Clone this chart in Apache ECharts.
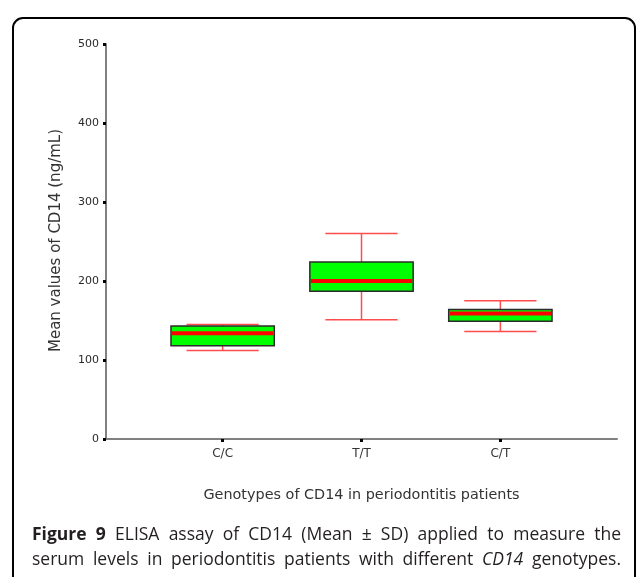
<!DOCTYPE html>
<html><head><meta charset="utf-8">
<script src="https://cdn.jsdelivr.net/npm/echarts@6/dist/echarts.min.js"></script>
<style>
html,body{margin:0;padding:0;background:#fff;}
#wrap{position:relative;width:636px;height:577px;overflow:hidden;}
#chart{position:absolute;left:0;top:0;width:636px;height:577px;}
.cap{position:absolute;left:32px;width:589px;font-family:"Open Sans",sans-serif;font-size:17.5px;line-height:25px;color:#231f20;text-align:justify;text-align-last:justify;white-space:nowrap;}
</style></head><body>
<div id="wrap"><div id="chart"></div>
<div class="cap" style="top:521px"><b>Figure 9</b> ELISA assay of CD14 (Mean ± SD) applied to measure the</div>
<div class="cap" style="top:546px">serum levels in periodontitis patients with different <i>CD14</i> genotypes.</div>
</div>
<script>
var categories = ['C/C', 'T/T', 'C/T'];
var lowValues = [112, 151, 136];
var q1Values = [118, 187, 149];
var medianValues = [134, 200, 159];
var q3Values = [143, 224, 164];
var highValues = [145, 260, 175];
var yTicks = [0, 100, 200, 300, 400, 500];

var boxData = categories.map(function (c, i) {
  return [i + 1, lowValues[i], q1Values[i], medianValues[i], q3Values[i], highValues[i]];
});

var FONT = 'DejaVu Sans';
var chart = echarts.init(document.getElementById('chart'));
chart.setOption({
  animation: false,
  backgroundColor: '#fff',
  grid: { left: 106, top: 44, right: 19, bottom: 138 },
  xAxis: {
    type: 'value', min: 0.16, max: 3.84,
    splitLine: { show: false },
    axisLine: { show: true, lineStyle: { color: '#808080', width: 2 } },
    axisTick: { show: true, length: 3, customValues: [1, 2, 3], lineStyle: { color: '#000', width: 3 } },
    axisLabel: {
      customValues: [1, 2, 3], margin: 9, fontSize: 12, color: '#333', fontFamily: FONT,
      formatter: function (v) { return categories[Math.round(v) - 1] || ''; }
    }
  },
  yAxis: {
    type: 'value', min: yTicks[0], max: yTicks[yTicks.length - 1], interval: 100,
    splitLine: { show: false },
    axisLine: { show: true, lineStyle: { color: '#808080', width: 2 } },
    axisTick: { show: true, length: 3, lineStyle: { color: '#000', width: 3 } },
    axisLabel: { margin: 7, fontSize: 11, color: '#2a2a2a', fontFamily: FONT }
  },
  graphic: [
    { type: 'rect', silent: true, z: 100,
      shape: { x: 13, y: 18, width: 622, height: 640, r: 10 },
      style: { fill: 'none', stroke: '#000', lineWidth: 2 } },
    { type: 'text', x: 56, y: 240.5, rotation: Math.PI / 2,
      style: { text: 'Mean values of CD14 (ng/mL)', fontSize: 15, fontFamily: FONT, fill: '#333',
        align: 'center', verticalAlign: 'middle' } },
    { type: 'text', x: 361.5, y: 495,
      style: { text: 'Genotypes of CD14 in periodontitis patients', fontSize: 14.4, fontFamily: FONT, fill: '#333',
        align: 'center', verticalAlign: 'middle' } }
  ],
  series: [{
    type: 'custom',
    data: boxData,
    encode: { x: 0, y: [1, 2, 3, 4, 5] },
    renderItem: function (params, api) {
      var x = api.value(0);
      var unit = api.size([1, 0])[0];
      var bw = unit * 0.372, cw = unit * 0.26;
      var pLow = api.coord([x, api.value(1)]);
      var pQ1 = api.coord([x, api.value(2)]);
      var pMed = api.coord([x, api.value(3)]);
      var pQ3 = api.coord([x, api.value(4)]);
      var pHigh = api.coord([x, api.value(5)]);
      var cx = pLow[0];
      var whisk = { stroke: '#ff4d4d', lineWidth: 1.5 };
      return { type: 'group', children: [
        { type: 'line', shape: { x1: cx, y1: pHigh[1], x2: cx, y2: pQ3[1] }, style: whisk },
        { type: 'line', shape: { x1: cx, y1: pLow[1], x2: cx, y2: pQ1[1] }, style: whisk },
        { type: 'line', shape: { x1: cx - cw, y1: pHigh[1], x2: cx + cw, y2: pHigh[1] }, style: whisk },
        { type: 'line', shape: { x1: cx - cw, y1: pLow[1], x2: cx + cw, y2: pLow[1] }, style: whisk },
        { type: 'rect', shape: { x: cx - bw, y: pQ3[1], width: 2 * bw, height: pQ1[1] - pQ3[1] },
          style: { fill: '#00ff00', stroke: '#2b2b2b', lineWidth: 1.5 } },
        { type: 'line', shape: { x1: cx - bw + 1, y1: pMed[1], x2: cx + bw - 1, y2: pMed[1] },
          style: { stroke: '#ff0000', lineWidth: 4 } }
      ] };
    }
  }]
});
</script>
</body></html>
